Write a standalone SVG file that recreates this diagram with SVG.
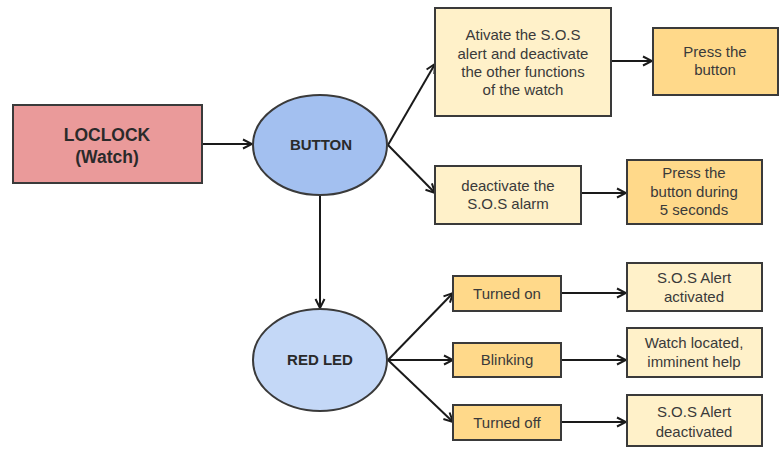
<svg xmlns="http://www.w3.org/2000/svg" width="781" height="449" viewBox="0 0 781 449">
  <style>
    .box { stroke: #3a3a3a; stroke-width: 2; }
    .pale { fill: #fff1c9; }
    .gold { fill: #ffd98a; }
    .edge { fill: none; stroke: #1a1a1a; stroke-width: 2; marker-end: url(#open); }
    text { font-family: "Liberation Sans", Arial, sans-serif; fill: #3a3a3a; text-anchor: middle; }
    .t { font-size: 15px; }
    .b { font-size: 15px; font-weight: bold; fill: #2a2a2a; }
    .bl { font-size: 17.5px; font-weight: bold; fill: #2a2a2a; }
  </style>
  <defs>
    <marker id="open" viewBox="0 0 12 12" refX="11" refY="6" markerWidth="12" markerHeight="12" markerUnits="userSpaceOnUse" orient="auto">
      <polyline points="2,1.5 11,6 2,10.5" fill="none" stroke="#1a1a1a" stroke-width="2"/>
    </marker>
  </defs>
  <rect width="781" height="449" fill="#ffffff"/>

  <g id="connectors">
    <line class="edge" x1="202" y1="144" x2="252" y2="144"/>
    <line class="edge" x1="388" y1="145" x2="435" y2="64"/>
    <line class="edge" x1="388" y1="145" x2="435" y2="193"/>
    <line class="edge" x1="611" y1="61" x2="652" y2="61"/>
    <line class="edge" x1="581" y1="193" x2="626" y2="193"/>
    <line class="edge" x1="320" y1="195" x2="320" y2="308"/>
    <line class="edge" x1="388" y1="360" x2="453" y2="293"/>
    <line class="edge" x1="388" y1="360" x2="453" y2="360"/>
    <line class="edge" x1="388" y1="360" x2="453" y2="422"/>
    <line class="edge" x1="561" y1="293" x2="626" y2="293"/>
    <line class="edge" x1="561" y1="360" x2="626" y2="360"/>
    <line class="edge" x1="561" y1="422" x2="626" y2="422"/>
  </g>

  <g id="loclock">
    <rect class="box" x="13" y="105" width="189" height="78" fill="#ea9a9a"/>
    <text class="bl" x="107" y="141">LOCLOCK</text>
    <text class="bl" x="107" y="163">(Watch)</text>
  </g>

  <g id="button">
    <ellipse class="box" cx="320" cy="145" rx="67" ry="50" fill="#a3c0f0"/>
    <text class="b" x="321" y="150">BUTTON</text>
  </g>

  <g id="activate">
    <rect class="box pale" x="435" y="8" width="176" height="108"/>
    <text class="t" x="523" y="40">Ativate the S.O.S</text>
    <text class="t" x="523" y="59">alert and deactivate</text>
    <text class="t" x="523" y="77">the other functions</text>
    <text class="t" x="523" y="95">of the watch</text>
  </g>

  <g id="press">
    <rect class="box gold" x="653" y="28" width="125" height="67"/>
    <text class="t" x="715" y="57">Press the</text>
    <text class="t" x="715" y="75">button</text>
  </g>

  <g id="deactivate">
    <rect class="box pale" x="435" y="166" width="146" height="58"/>
    <text class="t" x="508" y="191">deactivate the</text>
    <text class="t" x="508" y="209">S.O.S alarm</text>
  </g>

  <g id="press-5s">
    <rect class="box gold" x="627" y="160" width="135" height="64"/>
    <text class="t" x="694" y="178">Press the</text>
    <text class="t" x="694" y="197">button during</text>
    <text class="t" x="694" y="215">5 seconds</text>
  </g>

  <g id="red-led">
    <ellipse class="box" cx="320" cy="360" rx="67" ry="51" fill="#c4d8f7"/>
    <text class="b" x="320" y="365">RED LED</text>
  </g>

  <g id="turned-on">
    <rect class="box gold" x="453" y="276" width="108" height="35"/>
    <text class="t" x="507" y="299">Turned on</text>
  </g>

  <g id="blinking">
    <rect class="box gold" x="453" y="343" width="108" height="34"/>
    <text class="t" x="507" y="365">Blinking</text>
  </g>

  <g id="turned-off">
    <rect class="box gold" x="453" y="405" width="108" height="35"/>
    <text class="t" x="507" y="428">Turned off</text>
  </g>

  <g id="alert-on">
    <rect class="box pale" x="627" y="263" width="135" height="48"/>
    <text class="t" x="694" y="283">S.O.S Alert</text>
    <text class="t" x="694" y="302">activated</text>
  </g>

  <g id="located">
    <rect class="box pale" x="627" y="328" width="135" height="49"/>
    <text class="t" x="694" y="348">Watch located,</text>
    <text class="t" x="694" y="367">imminent help</text>
  </g>

  <g id="alert-off">
    <rect class="box pale" x="627" y="395" width="135" height="51"/>
    <text class="t" x="694" y="417">S.O.S Alert</text>
    <text class="t" x="694" y="437">deactivated</text>
  </g>
</svg>
